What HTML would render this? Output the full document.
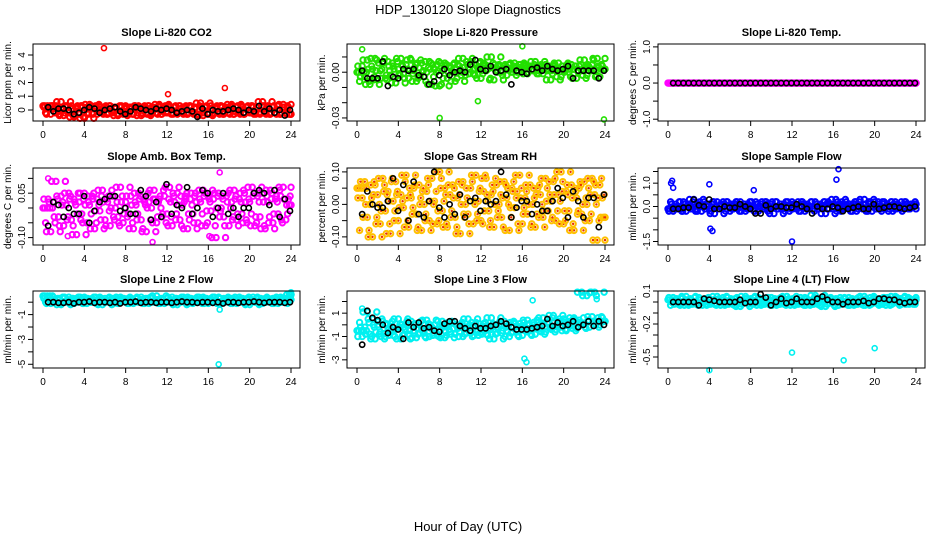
<!DOCTYPE html>
<html><head><meta charset="utf-8"><style>
body{margin:0;background:#fff}
svg{display:block;font-family:"Liberation Sans",sans-serif}
</style></head><body>
<svg id="c" width="936" height="540" viewBox="0 0 936 540">
<text x="468" y="14" text-anchor="middle" font-size="13">HDP_130120  Slope Diagnostics</text>
<text x="468" y="531" text-anchor="middle" font-size="13">Hour of Day (UTC)</text>
</svg>
<script>
const titles=["Slope Li-820 CO2","Slope Li-820 Pressure","Slope Li-820 Temp.","Slope Amb. Box Temp.","Slope Gas Stream RH","Slope Sample Flow","Slope Line 2 Flow","Slope Line 3 Flow","Slope Line 4 (LT) Flow"];
const ylabels=["Licor ppm per min.","kPa per min.","degrees C per min.","degrees C per min.","percent per min.","ml/min per min.","ml/min per min.","ml/min per min.","ml/min per min."];
const xTicks=[0,4,8,12,16,20,24];
const yRanges=[[-0.8,4.8],[-0.032,0.0185],[-1.05,1.08],[-0.125,0.135],[-0.125,0.112],[-1.65,1.65],[-5.3,0.9],[-3.7,2.9],[-0.6,0.1]];
const yTicks=[[0,1,2,3,4],[-0.03,-0.02,-0.01,0,0.01],[-1,-0.5,0,0.5,1],[-0.1,-0.05,0,0.05,0.1],[-0.1,-0.05,0,0.05,0.1],[-1.5,-1,-0.5,0,0.5,1,1.5],[-5,-4,-3,-2,-1,0],[-3,-2,-1,0,1,2],[-0.5,-0.4,-0.3,-0.2,-0.1,0,0.1]];
const yTickLabels=[["0","1","2","3","4"],["-0.03","","","0.00",""],["-1.0","","0.0","","1.0"],["-0.10","","","0.05",""],["-0.10","","0.00","","0.10"],["-1.5","","","0.0","","1.0",""],["-5","","-3","","-1",""],["-3","","-1","","1",""],["-0.5","","","-0.2","","","0.1"]];
const colors=["#ff0000","#22e000","#ff00ff","#ff00ff","#ffc000","#0000ff","#00f0f0","#00f0f0","#00f0f0"];

const c1=[0.3,-0.2,0.2,-0.3,0.1,0.3,-0.1,0.6,-0.4,0.2,-0.2,0.3,-0.5,0.1,-0.3,0.3,-0.6,0.2,0.4,-0.2,0.1,-0.3,0.3,-0.1,0.2,-0.3,0.3,-0.2,0.1,-0.4,0.2,-0.3,0.3,-0.2,0.2,-0.3,0.1,0.3,-0.4,0.2,-0.2,0.3,-0.3,0.1,-0.2,0.4,-0.3,0.2,-0.1,0.3,-0.2,0.2,-0.3,0.3,-0.2,0.1,-0.3,0.3,-0.2,0.2,-0.3,0.5,-0.4,0.2,-0.2,0.3,-0.3,0.1,-0.2,0.3,-0.3,0.2,-0.2,0.4,-0.3,0.2,-0.1,0.3,-0.3,0.2,-0.2,0.3,-0.2,0.2,-0.3,0.6,-0.2,0.3,-0.3,0.2,-0.2,0.3,-0.3,0.4,-0.2,0.2,-0.3];
const c2=[0.000,-0.006,0.004,-0.003,0.008,-0.008,0.002,0.009,-0.005,0.001,0.006,-0.004,0.007,-0.002,0.004,-0.007,0.002,0.009,-0.001,0.005,-0.004,0.008,0.001,-0.006,0.003,0.006,-0.003,0.000,0.007,-0.008,0.002,0.005,-0.009,0.001,0.006,-0.004,0.004,0.000,-0.006,0.005,0.002,0.009,-0.002,0.003,0.007,-0.001,0.005,0.002,-0.004,0.006,0.001,0.004,0.010,-0.005,0.003,0.005,0.000,0.004,-0.002,0.005,0.002,0.006,0.000,0.003,0.001,0.005,-0.001,0.004,0.002,0.007,0.001,0.003,-0.001,0.005,0.002,-0.005,0.004,0.001,0.006,-0.003,0.002,0.004,0.000,0.005,0.002,-0.004,0.004,0.001,0.008,-0.002,0.003,0.005,0.002,0.009,-0.003,0.004,0.002];
const c3=[0,0,0,0,0,0,0,0,0,0,0,0,0,0,0,0,0,0,0,0,0,0,0,0,0,0,0,0,0,0,0,0,0,0,0,0,0,0,0,0,0,0,0,0,0,0,0,0,0,0,0,0,0,0,0,0,0,0,0,0,0,0,0,0,0,0,0,0,0,0,0,0,0,0,0,0,0,0,0,0,0,0,0,0,0,0,0,0,0,0,0,0,0,0,0,0,0];
const c4=[0.00,-0.05,0.03,-0.08,0.02,0.09,-0.03,0.04,-0.06,0.01,0.05,-0.04,0.03,-0.09,0.02,-0.02,0.05,-0.05,0.01,0.04,-0.07,0.03,-0.01,0.06,-0.04,0.02,-0.06,0.04,0.00,-0.03,0.07,-0.05,0.02,-0.02,0.04,-0.07,0.01,0.05,-0.04,0.03,-0.08,0.02,0.00,0.06,-0.05,0.03,-0.03,0.04,-0.02,0.07,-0.06,0.02,0.05,-0.04,0.01,0.04,-0.07,0.03,-0.02,0.05,-0.05,0.02,0.06,-0.06,0.04,-0.01,0.03,-0.10,0.05,0.00,-0.03,0.04,-0.06,0.02,0.06,-0.04,0.03,-0.02,0.05,-0.05,0.02,0.07,-0.06,0.04,-0.03,0.05,-0.07,0.02,0.06,-0.05,0.03,-0.02,0.04,0.07,-0.04,0.03,0.01];
const c5=[0.05,-0.08,0.02,0.07,-0.04,0.00,-0.10,0.06,0.03,-0.06,0.08,-0.02,0.04,-0.09,0.01,0.07,-0.05,0.03,-0.01,0.09,-0.07,0.02,0.05,-0.03,0.06,-0.08,0.00,0.04,-0.05,0.08,0.01,-0.06,0.10,-0.02,0.05,-0.07,0.03,0.06,-0.04,0.02,-0.09,0.07,0.00,-0.03,0.05,-0.06,0.09,0.01,-0.05,0.04,0.08,-0.02,0.03,-0.07,0.06,0.00,-0.04,0.07,0.02,-0.08,0.05,-0.01,0.04,0.09,-0.06,0.02,-0.03,0.06,0.00,-0.07,0.05,0.03,-0.04,0.08,-0.02,0.01,0.07,-0.05,0.03,0.10,-0.06,0.04,-0.02,0.06,-0.08,0.02,0.05,-0.03,0.07,0.00,-0.05,0.08,0.03,-0.11,0.06,0.02,-0.04];
const c6=[-0.1,0.2,-0.2,0.1,0.0,-0.1,0.2,-0.2,0.1,0.0,0.3,-0.1,0.1,-0.2,0.2,0.0,-0.1,0.1,-0.3,0.2,0.0,-0.1,0.1,0.2,-0.2,0.0,0.1,-0.1,0.2,0.0,-0.2,0.1,0.0,-0.1,0.2,-0.2,0.1,0.0,0.2,-0.1,0.1,-0.3,0.2,0.0,-0.1,0.1,0.0,-0.2,0.2,0.1,-0.1,0.0,0.2,-0.2,0.1,0.0,-0.1,0.2,-0.1,0.1,0.0,-0.3,0.2,0.1,-0.1,0.3,0.0,-0.2,0.1,0.2,-0.1,0.0,0.1,-0.2,0.2,0.0,0.3,-0.1,0.1,-0.2,0.2,0.0,-0.1,0.2,-0.1,0.1,0.0,-0.2,0.2,0.1,-0.1,0.0,0.2,-0.1,0.1,0.0,0.1];
const c7=[0.5,0.0,0.3,-0.1,0.4,0.1,0.2,-0.2,0.3,0.0,0.4,0.1,-0.1,0.3,0.2,0.0,0.4,-0.1,0.2,0.3,0.0,0.1,0.4,-0.2,0.3,0.1,0.0,0.3,0.2,-0.1,0.4,0.1,0.0,0.3,0.2,-0.1,0.3,0.0,0.4,0.1,0.2,-0.1,0.3,0.0,0.5,0.1,0.2,-0.1,0.3,0.0,0.4,0.1,-0.2,0.3,0.2,0.0,0.4,0.1,-0.1,0.3,0.2,0.0,0.4,0.1,-0.1,0.3,0.0,0.2,0.4,-0.1,0.3,0.1,0.0,0.3,0.2,-0.1,0.4,0.0,0.1,0.3,-0.2,0.2,0.0,0.4,0.1,-0.1,0.3,0.2,0.0,0.3,0.1,-0.1,0.4,0.2,0.0,0.3,0.6];
const c8=[-0.5,0.2,-1.0,-0.2,1.1,-0.8,0.5,-1.2,0.0,-0.6,0.3,-1.0,-0.3,0.1,-0.9,-0.4,0.5,-1.2,-0.2,0.0,-0.8,0.3,-0.5,-1.1,0.1,-0.3,-0.7,0.4,-1.0,-0.2,0.0,-0.9,-0.4,0.3,-1.1,-0.1,-0.6,0.2,-0.8,-0.3,0.0,-1.0,-0.2,0.5,-0.7,-0.1,0.2,-0.9,-0.4,0.1,-0.8,-0.3,0.6,-1.2,-0.2,0.0,-0.7,0.3,-0.5,-1.0,-0.1,0.2,-0.6,0.1,-0.9,-0.2,0.4,-0.5,0.0,-0.8,0.2,-0.3,0.6,-0.6,0.1,-0.2,0.8,-0.4,0.3,-0.1,0.5,-0.5,0.2,0.0,0.6,-0.3,0.4,2.8,0.1,2.5,-0.2,0.7,2.8,0.3,0.0,0.6,0.3];
const c9=[0.02,-0.03,0.04,0.00,-0.02,0.03,-0.01,0.05,-0.03,0.02,0.00,-0.02,0.04,-0.01,0.02,-0.03,0.03,0.00,-0.02,0.05,-0.01,0.02,-0.03,0.04,0.01,-0.02,0.03,0.00,-0.04,0.02,0.05,-0.01,0.03,-0.02,0.00,0.04,-0.03,0.02,0.01,-0.02,0.04,0.00,-0.03,0.03,0.01,-0.02,0.05,-0.01,0.02,-0.03,0.03,0.00,-0.02,0.04,0.01,-0.03,0.02,0.06,-0.02,0.03,0.00,-0.04,0.02,0.04,-0.01,0.03,-0.03,0.02,0.00,-0.02,0.04,0.01,-0.03,0.03,0.00,-0.02,0.05,0.01,-0.03,0.02,0.04,-0.01,0.03,-0.02,0.00,0.04,-0.03,0.02,0.05,-0.01,0.03,0.00,-0.02,0.04,0.01,-0.02,0.02];
const colorSeries=[c1,c2,c3,c4,c5,c6,c7,c8,c9];

const b1=[0.2,-0.1,0.1,0.1,0.0,-0.3,-0.2,0.0,0.2,0.1,-0.2,0.0,0.1,0.2,-0.1,-0.3,-0.1,0.2,0.1,0.0,-0.1,0.1,0.0,0.1,0.0,-0.2,-0.1,0.0,-0.1,-0.5,0.1,-0.3,0.0,-0.1,-0.1,0.0,0.1,0.0,-0.2,0.0,-0.1,0.3,-0.1,0.1,-0.2,0.0,-0.4,0.0];
const b2=[0.001,-0.004,-0.004,-0.004,0.007,-0.009,-0.003,-0.004,0.002,0.001,0.002,-0.002,-0.003,-0.008,-0.006,-0.002,0.002,-0.002,0.000,0.001,0.000,0.005,0.008,0.002,0.001,0.004,0.000,0.001,0.002,-0.008,0.001,0.000,-0.001,0.002,0.003,0.001,0.004,0.002,0.001,0.002,0.004,-0.004,0.001,0.001,0.001,0.001,-0.004,0.001];
const b3=[0,0,0,0,0,0,0,0,0,0,0,0,0,0,0,0,0,0,0,0,0,0,0,0,0,0,0,0,0,0,0,0,0,0,0,0,0,0,0,0,0,0,0,0,0,0,0,0];
const b4=[-0.06,0.02,0.01,-0.03,0.00,-0.02,-0.02,0.04,-0.05,-0.01,0.02,0.03,0.04,0.04,-0.01,0.00,-0.02,-0.02,0.06,0.04,-0.04,0.02,-0.03,0.08,-0.02,0.01,0.00,0.07,-0.02,0.00,0.06,0.05,-0.03,0.00,0.05,-0.02,0.00,-0.03,0.00,0.00,0.05,0.06,0.05,0.01,0.06,-0.03,0.03,-0.01];
const b5=[-0.03,0.04,0.00,-0.01,-0.01,0.01,0.08,-0.02,0.06,-0.05,0.07,-0.03,-0.04,0.01,0.10,-0.01,-0.04,0.00,-0.03,0.03,-0.04,0.01,0.02,-0.02,0.01,0.00,0.01,0.10,0.03,-0.04,-0.01,0.01,0.01,-0.03,0.00,-0.02,-0.02,0.01,0.05,0.02,-0.04,0.04,0.01,-0.04,0.02,0.02,-0.07,0.03];
const b6=[-0.1,-0.1,-0.05,-0.05,0.3,0.05,0.0,0.3,-0.1,-0.1,0.0,-0.05,-0.05,0.1,0.0,-0.1,-0.3,-0.3,0.05,-0.1,0.0,0.0,-0.05,-0.05,0.1,0.0,-0.1,-0.3,0.0,-0.1,-0.1,0.0,-0.05,-0.2,-0.1,-0.05,0.0,-0.1,-0.1,0.1,-0.1,-0.05,0.0,0.0,-0.05,-0.1,-0.05,0.0];
const b7=[0.0,0.0,-0.05,-0.05,0.0,-0.1,0.0,0.0,0.05,-0.05,0.0,0.0,-0.05,0.0,-0.1,0.0,0.0,0.05,-0.05,0.0,0.0,-0.05,0.0,0.0,-0.05,0.0,0.05,0.0,0.0,-0.05,0.0,0.0,-0.05,0.0,-0.1,0.0,0.0,-0.05,0.0,0.0,0.05,0.0,-0.05,0.0,0.0,0.0,-0.05,0.0];
const b8=[-1.7,1.2,0.6,0.4,0.0,-0.7,-0.2,-0.4,-1.2,0.2,-0.2,0.2,-0.3,-0.2,-0.5,-0.6,0.1,0.3,0.3,-0.1,-0.3,-0.5,-0.1,-0.3,-0.3,-0.1,0.0,0.3,0.1,-0.2,-0.4,-0.4,-0.4,-0.3,-0.2,-0.1,0.5,-0.1,0.2,-0.1,0.0,0.3,-0.2,0.0,0.3,-0.1,0.3,0.0];
const b9=[0.0,0.0,0.0,0.0,0.0,-0.03,0.03,0.02,0.01,0.0,0.0,0.0,0.0,0.02,-0.01,0.0,0.0,0.07,0.04,-0.03,0.0,0.03,-0.01,0.0,0.03,0.0,0.0,0.0,0.03,0.05,0.02,0.0,0.0,-0.02,0.0,0.0,0.0,0.01,-0.01,0.0,0.03,0.03,0.02,0.02,0.0,-0.01,0.0,0.0];
const blackSeries=[b1,b2,b3,b4,b5,b6,b7,b8,b9];

const outHours=[[5.9,12.1,17.6],[0.5,8,11.7,16,23.9],[],[0.5,10.6,17.1,2.4,16.1],[],[0.3,0.4,0.5,4.0,4.1,4.3,8.3,12,16.3,16.5],[17,17.1,24],[0.5,16.2,16.4,17.0,22.5,23.2],[4,12,17,20]];
const outValues=[[4.5,1.15,1.6],[0.015,-0.030,-0.019,0.017,-0.031],[],[0.10,-0.115,0.12,-0.095,-0.095],[],[1.0,1.1,0.8,0.95,-0.95,-1.05,0.7,-1.5,1.15,1.6],[-5.0,-0.6,0.8],[1.4,-2.9,-3.2,2.1,2.7,2.2],[-0.62,-0.46,-0.53,-0.42]];

const NS="http://www.w3.org/2000/svg";
const svg=document.getElementById('c');
function mk(tag,attrs,parent){const e=document.createElementNS(NS,tag);for(const k in attrs)e.setAttribute(k,attrs[k]);(parent||svg).appendChild(e);return e;}
const boxW=267, boxH=77;
const lefts=[33,347,658], tops=[44,168,291];

for(let p=0;p<9;p++){
  const L=lefts[p%3], T=tops[Math.floor(p/3)], R=L+boxW, B=T+boxH;
  const g=mk('g',{});
  
  
  const xs=h=>L+10+(h/24)*(boxW-19);
  const [y0,y1]=yRanges[p];
  const ys=v=>B-(v-y0)/(y1-y0)*boxH;
  const t=mk('text',{x:(L+R)/2,y:T-8,'text-anchor':'middle','font-size':11,'font-weight':'bold'},g);
  t.textContent=titles[p];
  
  
  const yl=mk('text',{x:0,y:0,'text-anchor':'middle','font-size':10,transform:`translate(${L-22},${(T+B)/2}) rotate(-90)`},g);
  yl.textContent=ylabels[p];
  
  
  xTicks.forEach(h=>{
    mk('line',{x1:xs(h),x2:xs(h),y1:B,y2:B+5,stroke:'#000'},g);
    const tl=mk('text',{x:xs(h),y:B+17,'text-anchor':'middle','font-size':10},g);
    tl.textContent=h;
    
    
  });
  yTicks[p].forEach((v,i)=>{
    mk('line',{x1:L-5,x2:L,y1:ys(v),y2:ys(v),stroke:'#000'},g);
    if(yTickLabels[p][i]){
      const tl=mk('text',{x:0,y:0,'text-anchor':'middle','font-size':10,transform:`translate(${L-8},${ys(v)}) rotate(-90)`},g);
      tl.textContent=yTickLabels[p][i];
      
      
    }
  });
  const cs=colorSeries[p];
  const n=cs.length, step=24/(n-1);
  const shifts=[0,2,-3];
  for(let pass=0;pass<3;pass++){
    cs.forEach((v0,i)=>{
      const j=Math.max(0,Math.min(n-1,i+shifts[pass]));
      const v=cs[j];
      const h=Math.min(24, i*step + pass*step/3);
      const pt=mk('circle',{cx:xs(h),cy:ys(v),r:2.7,fill:'none',stroke:colors[p],'stroke-width':2},g);
      
      
      if(p===4){mk('circle',{cx:xs(h),cy:ys(v),r:1.2,fill:'#e83000'},g);}
    });
  }
  outHours[p].forEach((h,i)=>{
    const pt=mk('circle',{cx:xs(h),cy:ys(outValues[p][i]),r:2.5,fill:'none',stroke:colors[p],'stroke-width':1.6},g);
    
    
  });
  const bs=blackSeries[p];
  bs.forEach((v,i)=>{
    const h=0.5+i*23.4/(bs.length-1);
    const pt=mk('circle',{cx:xs(h),cy:ys(v),r:2.6,fill:'none',stroke:'#000','stroke-width':1.6},g);
    
    
  });
  const box=mk('rect',{x:L,y:T,width:boxW,height:boxH,fill:'none',stroke:'#000','stroke-width':1},g);
  
  
}
</script>
</body></html>
